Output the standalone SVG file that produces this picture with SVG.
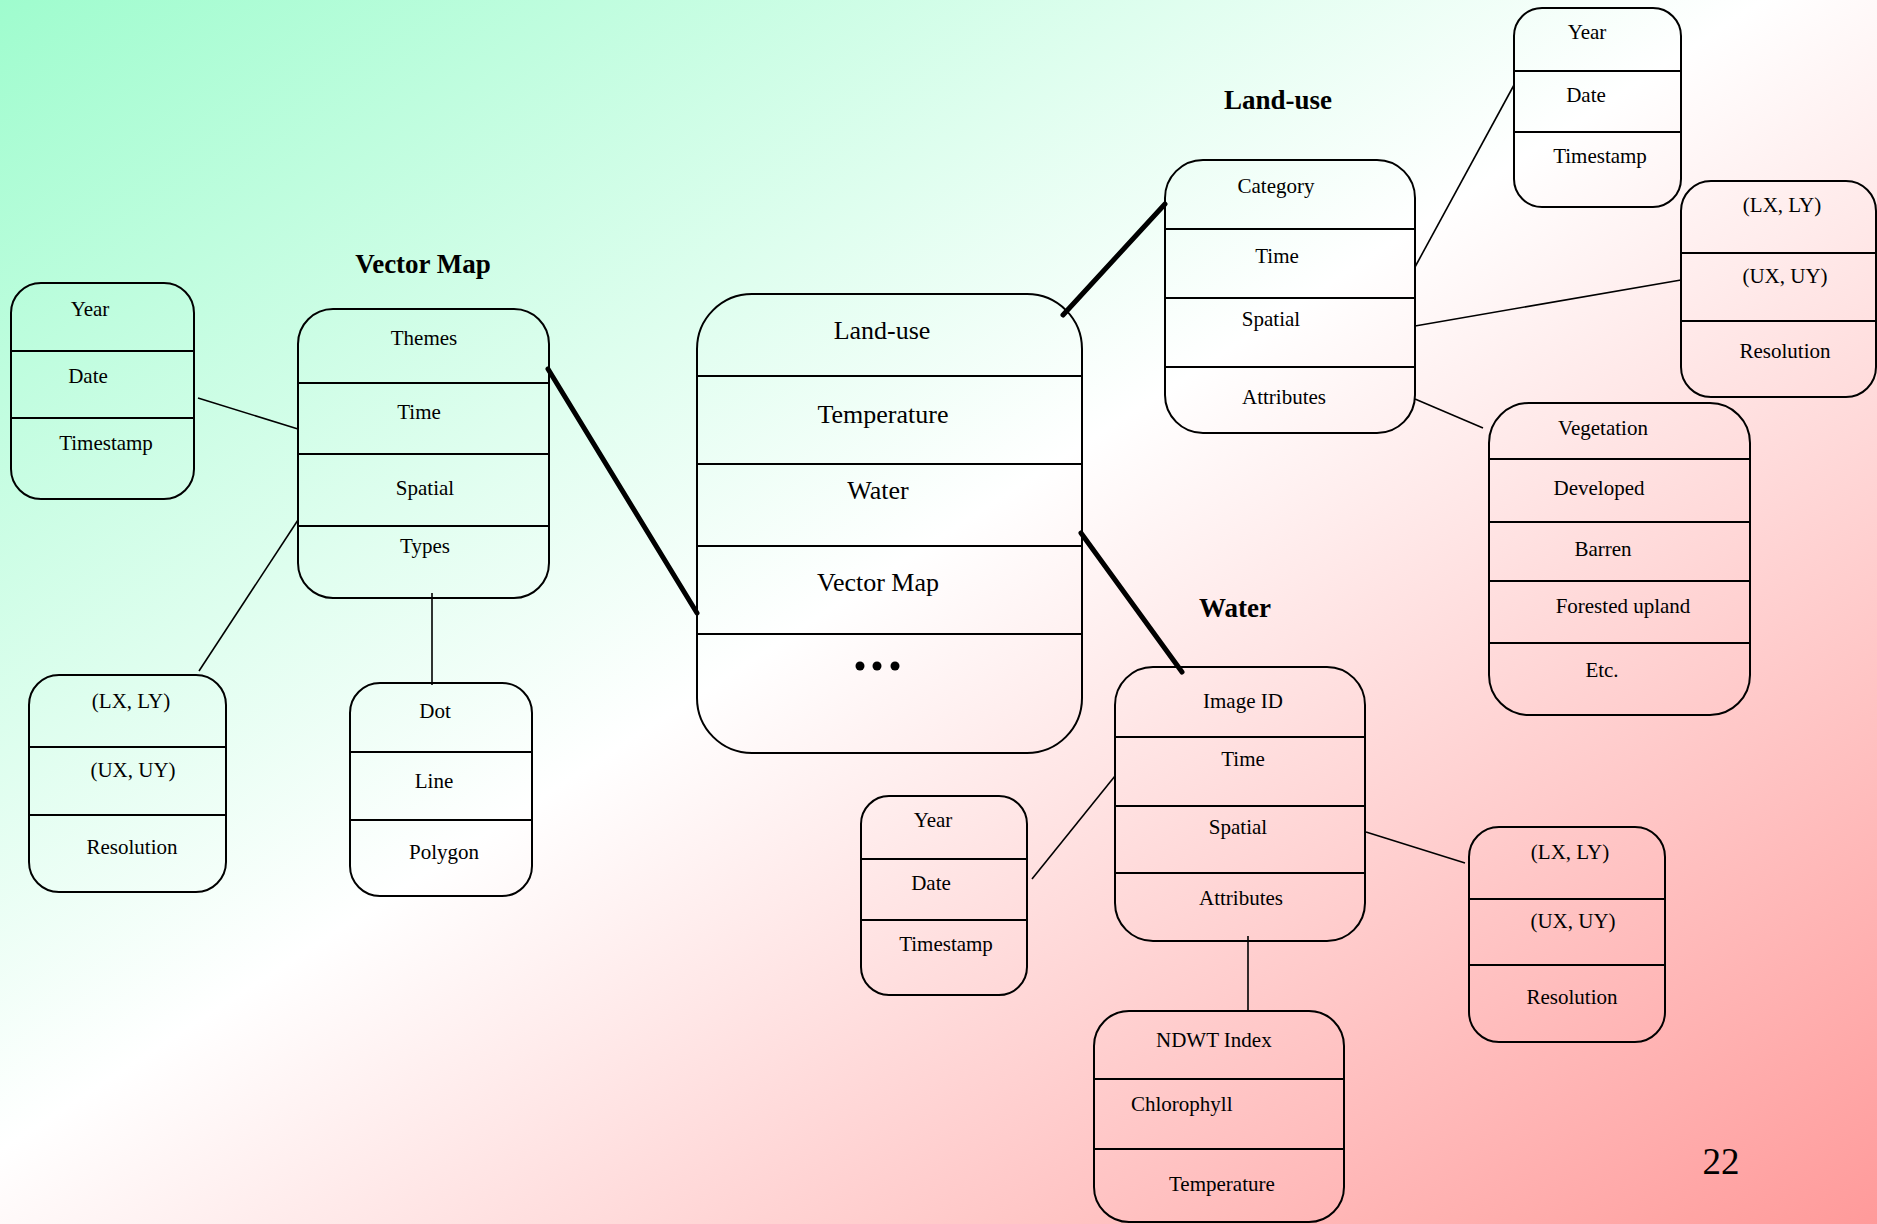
<svg xmlns="http://www.w3.org/2000/svg" width="1877" height="1224" viewBox="0 0 1877 1224">
  <defs>
    <linearGradient id="bg" x1="0" y1="0" x2="1" y2="1">
      <stop offset="0" stop-color="#9ffcce"/>
      <stop offset="0.47" stop-color="#ffffff"/>
      <stop offset="1" stop-color="#ff9a9a"/>
    </linearGradient>
    <style>
      .box { fill: none; stroke: #000; stroke-width: 2; }
      .div { stroke: #000; stroke-width: 2; }
      .t { font-family: "Liberation Serif", "Times New Roman", serif; font-size: 21px; fill: #000; text-anchor: middle; }
      .tl { font-family: "Liberation Serif", "Times New Roman", serif; font-size: 21px; fill: #000; text-anchor: start; }
      .big { font-family: "Liberation Serif", "Times New Roman", serif; font-size: 26px; fill: #000; text-anchor: middle; }
      .title { font-family: "Liberation Serif", "Times New Roman", serif; font-size: 27px; font-weight: bold; fill: #000; text-anchor: middle; }
      .thin { stroke: #000; stroke-width: 1.6; fill: none; }
      .thick { stroke: #000; stroke-width: 5; fill: none; stroke-linecap: round; }
    </style>
  </defs>

  <rect x="0" y="0" width="1877" height="1224" fill="url(#bg)"/>

  <!-- connectors -->
  <g id="connectors">
    <line class="thin" x1="198" y1="398" x2="298" y2="429"/>
    <line class="thin" x1="298" y1="520" x2="199" y2="671"/>
    <line class="thin" x1="432" y1="593" x2="432" y2="685"/>
    <line class="thin" x1="1415" y1="267" x2="1514" y2="85"/>
    <line class="thin" x1="1415" y1="326" x2="1681" y2="280"/>
    <line class="thin" x1="1415" y1="399" x2="1483" y2="428"/>
    <line class="thin" x1="1032" y1="879" x2="1115" y2="776"/>
    <line class="thin" x1="1366" y1="832" x2="1465" y2="863"/>
    <line class="thin" x1="1248" y1="936" x2="1248" y2="1011"/>
    <line class="thick" x1="548" y1="369" x2="697" y2="613"/>
    <line class="thick" x1="1063" y1="315" x2="1165" y2="204"/>
    <line class="thick" x1="1081" y1="533" x2="1182" y2="672"/>
  </g>

  <!-- section titles -->
  <text class="title" x="423" y="273">Vector Map</text>
  <text class="title" x="1278" y="109">Land-use</text>
  <text class="title" x="1235" y="617">Water</text>

  <!-- central theme list -->
  <g id="themes">
    <rect class="box" x="697" y="294" width="385" height="459" rx="55"/>
    <line class="div" x1="697" y1="376" x2="1082" y2="376"/>
    <line class="div" x1="697" y1="464" x2="1082" y2="464"/>
    <line class="div" x1="697" y1="546" x2="1082" y2="546"/>
    <line class="div" x1="697" y1="634" x2="1082" y2="634"/>
    <text class="big" x="882" y="339">Land-use</text>
    <text class="big" x="883" y="423">Temperature</text>
    <text class="big" x="878" y="499">Water</text>
    <text class="big" x="878" y="591">Vector Map</text>
    <circle cx="860" cy="666" r="4.5"/>
    <circle cx="877" cy="666" r="4.5"/>
    <circle cx="895" cy="666" r="4.5"/>
  </g>

  <!-- Vector Map -->
  <g id="vector-map">
    <rect class="box" x="298" y="309" width="251" height="289" rx="35"/>
    <line class="div" x1="298" y1="383" x2="549" y2="383"/>
    <line class="div" x1="298" y1="454" x2="549" y2="454"/>
    <line class="div" x1="298" y1="526" x2="549" y2="526"/>
    <text class="t" x="424" y="345">Themes</text>
    <text class="t" x="419" y="419">Time</text>
    <text class="t" x="425" y="495">Spatial</text>
    <text class="t" x="425" y="553">Types</text>
  </g>

  <g id="vector-map-time">
    <rect class="box" x="11" y="283" width="183" height="216" rx="30"/>
    <line class="div" x1="11" y1="351" x2="194" y2="351"/>
    <line class="div" x1="11" y1="418" x2="194" y2="418"/>
    <text class="t" x="90" y="316">Year</text>
    <text class="t" x="88" y="383">Date</text>
    <text class="t" x="106" y="450">Timestamp</text>
  </g>

  <g id="vector-map-spatial">
    <rect class="box" x="29" y="675" width="197" height="217" rx="30"/>
    <line class="div" x1="29" y1="747" x2="226" y2="747"/>
    <line class="div" x1="29" y1="815" x2="226" y2="815"/>
    <text class="t" x="131" y="708">(LX, LY)</text>
    <text class="t" x="133" y="777">(UX, UY)</text>
    <text class="t" x="132" y="854">Resolution</text>
  </g>

  <g id="vector-map-types">
    <rect class="box" x="350" y="683" width="182" height="213" rx="30"/>
    <line class="div" x1="350" y1="752" x2="532" y2="752"/>
    <line class="div" x1="350" y1="820" x2="532" y2="820"/>
    <text class="t" x="435" y="718">Dot</text>
    <text class="t" x="434" y="788">Line</text>
    <text class="t" x="444" y="859">Polygon</text>
  </g>

  <!-- Land-use -->
  <g id="land-use">
    <rect class="box" x="1165" y="160" width="250" height="273" rx="38"/>
    <line class="div" x1="1165" y1="229" x2="1415" y2="229"/>
    <line class="div" x1="1165" y1="298" x2="1415" y2="298"/>
    <line class="div" x1="1165" y1="367" x2="1415" y2="367"/>
    <text class="t" x="1276" y="193">Category</text>
    <text class="t" x="1277" y="263">Time</text>
    <text class="t" x="1271" y="326">Spatial</text>
    <text class="t" x="1284" y="404">Attributes</text>
  </g>

  <g id="land-use-time">
    <rect class="box" x="1514" y="8" width="167" height="199" rx="28"/>
    <line class="div" x1="1514" y1="71" x2="1681" y2="71"/>
    <line class="div" x1="1514" y1="132" x2="1681" y2="132"/>
    <text class="t" x="1587" y="39">Year</text>
    <text class="t" x="1586" y="102">Date</text>
    <text class="t" x="1600" y="163">Timestamp</text>
  </g>

  <g id="land-use-spatial">
    <rect class="box" x="1681" y="181" width="195" height="216" rx="30"/>
    <line class="div" x1="1681" y1="253" x2="1876" y2="253"/>
    <line class="div" x1="1681" y1="321" x2="1876" y2="321"/>
    <text class="t" x="1782" y="212">(LX, LY)</text>
    <text class="t" x="1785" y="283">(UX, UY)</text>
    <text class="t" x="1785" y="358">Resolution</text>
  </g>

  <g id="land-use-attributes">
    <rect class="box" x="1489" y="403" width="261" height="312" rx="40"/>
    <line class="div" x1="1489" y1="459" x2="1750" y2="459"/>
    <line class="div" x1="1489" y1="522" x2="1750" y2="522"/>
    <line class="div" x1="1489" y1="581" x2="1750" y2="581"/>
    <line class="div" x1="1489" y1="643" x2="1750" y2="643"/>
    <text class="t" x="1603" y="435">Vegetation</text>
    <text class="t" x="1599" y="495">Developed</text>
    <text class="t" x="1603" y="556">Barren</text>
    <text class="t" x="1623" y="613">Forested upland</text>
    <text class="t" x="1602" y="677">Etc.</text>
  </g>

  <!-- Water -->
  <g id="water">
    <rect class="box" x="1115" y="667" width="250" height="274" rx="38"/>
    <line class="div" x1="1115" y1="737" x2="1365" y2="737"/>
    <line class="div" x1="1115" y1="806" x2="1365" y2="806"/>
    <line class="div" x1="1115" y1="873" x2="1365" y2="873"/>
    <text class="t" x="1243" y="708">Image ID</text>
    <text class="t" x="1243" y="766">Time</text>
    <text class="t" x="1238" y="834">Spatial</text>
    <text class="t" x="1241" y="905">Attributes</text>
  </g>

  <g id="water-time">
    <rect class="box" x="861" y="796" width="166" height="199" rx="28"/>
    <line class="div" x1="861" y1="859" x2="1027" y2="859"/>
    <line class="div" x1="861" y1="920" x2="1027" y2="920"/>
    <text class="t" x="933" y="827">Year</text>
    <text class="t" x="931" y="890">Date</text>
    <text class="t" x="946" y="951">Timestamp</text>
  </g>

  <g id="water-spatial">
    <rect class="box" x="1469" y="827" width="196" height="215" rx="30"/>
    <line class="div" x1="1469" y1="899" x2="1665" y2="899"/>
    <line class="div" x1="1469" y1="965" x2="1665" y2="965"/>
    <text class="t" x="1570" y="859">(LX, LY)</text>
    <text class="t" x="1573" y="928">(UX, UY)</text>
    <text class="t" x="1572" y="1004">Resolution</text>
  </g>

  <g id="water-attributes">
    <rect class="box" x="1094" y="1011" width="250" height="211" rx="35"/>
    <line class="div" x1="1094" y1="1079" x2="1344" y2="1079"/>
    <line class="div" x1="1094" y1="1149" x2="1344" y2="1149"/>
    <text class="tl" x="1156" y="1047">NDWT Index</text>
    <text class="tl" x="1131" y="1111">Chlorophyll</text>
    <text class="tl" x="1169" y="1191">Temperature</text>
  </g>

  <!-- page number -->
  <text class="big" x="1721" y="1174" style="font-size:37px">22</text>
</svg>
